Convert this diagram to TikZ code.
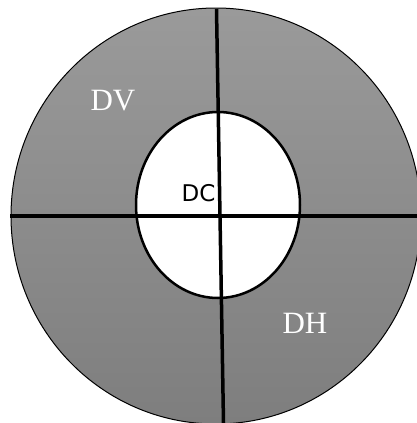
\documentclass[tikz,border=0pt]{standalone}
\usepackage{fontspec}
\setmainfont{Liberation Serif}
\newfontfamily\dcfont{DejaVu Sans}
\begin{document}
\begin{tikzpicture}[x=1pt,y=-1pt,
  innerdisk/.style={draw=black,line width=2.5pt,fill=white},
  axisline/.style={draw=black,line width=3.5pt},
  zonelabel/.style={text=white,font=\fontsize{31}{31}\selectfont,inner sep=0pt},
  centerlabel/.style={text=black,font=\dcfont\fontsize{23}{23}\selectfont,inner sep=0pt}]
\useasboundingbox (0,0) rectangle (417,423);
\begin{scope}
\clip (0,0) rectangle (417,423);
\shade[draw=black,line width=1pt,top color={rgb,255:red,154;green,154;blue,154},bottom color={rgb,255:red,126;green,126;blue,126}] (216,216) ellipse [x radius=205, y radius=208];
\draw[innerdisk] (218,205) ellipse [x radius=82, y radius=93];
\coordinate (hl) at (10,216);
\coordinate (hr) at (417,216);
\coordinate (vt) at (216.5,9);
\coordinate (vb) at (223.5,423);
\draw[axisline] (hl) -- (hr);
\draw[axisline] (vt) -- (vb);
\end{scope}
\node[zonelabel] (dv) at (113,101) {DV};
\node[zonelabel] (dh) at (305,323) {DH};
\node[centerlabel] (dc) at (198.5,193.5) {DC};
\end{tikzpicture}
\end{document}
